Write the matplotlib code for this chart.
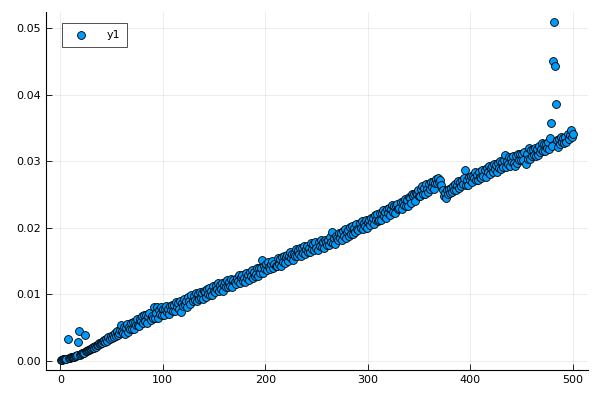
import matplotlib
matplotlib.use("Agg")
import matplotlib.pyplot as plt

x = list(range(1, 501))
y1 = [
    0.0001,0.0001,0.0002,0.0002,0.0002,0.0003,0.0033,0.0004,0.0004,0.0005,
    0.0005,0.0006,0.0006,0.0007,0.0007,0.0008,0.0028,0.0044,0.0009,0.0010,
    0.0011,0.0012,0.0012,0.0039,0.0014,0.0015,0.0016,0.0016,0.0017,0.0018,
    0.0019,0.0020,0.0019,0.0022,0.0021,0.0024,0.0023,0.0026,0.0025,0.0027,
    0.0026,0.0029,0.0031,0.0028,0.0033,0.0030,0.0035,0.0032,0.0037,0.0034,
    0.0038,0.0035,0.0041,0.0037,0.0044,0.0039,0.0042,0.0046,0.0053,0.0045,
    0.0042,0.0050,0.0040,0.0049,0.0055,0.0043,0.0050,0.0048,0.0057,0.0048,
    0.0058,0.0047,0.0058,0.0054,0.0062,0.0054,0.0052,0.0062,0.0059,0.0067,
    0.0057,0.0068,0.0060,0.0068,0.0057,0.0067,0.0072,0.0061,0.0067,0.0064,
    0.0080,0.0064,0.0072,0.0081,0.0064,0.0076,0.0070,0.0080,0.0068,0.0077,
    0.0068,0.0078,0.0082,0.0073,0.0077,0.0070,0.0082,0.0076,0.0084,0.0075,
    0.0084,0.0075,0.0088,0.0080,0.0086,0.0077,0.0089,0.0073,0.0087,0.0082,
    0.0092,0.0083,0.0089,0.0081,0.0095,0.0090,0.0085,0.0098,0.0090,0.0097,
    0.0091,0.0101,0.0089,0.0100,0.0093,0.0103,0.0094,0.0101,0.0093,0.0105,
    0.0103,0.0096,0.0107,0.0100,0.0109,0.0099,0.0105,0.0098,0.0112,0.0104,
    0.0103,0.0114,0.0107,0.0116,0.0104,0.0113,0.0108,0.0116,0.0104,0.0114,
    0.0118,0.0111,0.0121,0.0110,0.0118,0.0112,0.0123,0.0111,0.0121,0.0118,
    0.0115,0.0125,0.0119,0.0129,0.0116,0.0126,0.0129,0.0120,0.0125,0.0118,
    0.0132,0.0124,0.0129,0.0121,0.0134,0.0128,0.0137,0.0125,0.0134,0.0128,
    0.0131,0.0140,0.0128,0.0139,0.0132,0.0140,0.0152,0.0132,0.0142,0.0138,
    0.0145,0.0137,0.0148,0.0141,0.0138,0.0146,0.0150,0.0139,0.0146,0.0143,
    0.0142,0.0154,0.0146,0.0153,0.0143,0.0156,0.0148,0.0158,0.0147,0.0156,
    0.0159,0.0150,0.0158,0.0164,0.0155,0.0161,0.0152,0.0161,0.0158,0.0168,
    0.0157,0.0166,0.0161,0.0169,0.0157,0.0169,0.0162,0.0172,0.0160,0.0168,
    0.0172,0.0164,0.0170,0.0163,0.0177,0.0168,0.0175,0.0166,0.0178,0.0169,
    0.0167,0.0178,0.0173,0.0181,0.0171,0.0179,0.0170,0.0182,0.0179,0.0174,
    0.0182,0.0174,0.0186,0.0178,0.0194,0.0177,0.0185,0.0176,0.0188,0.0185,
    0.0181,0.0192,0.0185,0.0192,0.0182,0.0195,0.0188,0.0198,0.0185,0.0194,
    0.0197,0.0188,0.0201,0.0191,0.0202,0.0190,0.0200,0.0194,0.0206,0.0198,
    0.0196,0.0207,0.0200,0.0210,0.0198,0.0207,0.0202,0.0212,0.0199,0.0209,
    0.0212,0.0204,0.0215,0.0208,0.0214,0.0206,0.0219,0.0211,0.0221,0.0210,
    0.0212,0.0222,0.0212,0.0222,0.0226,0.0217,0.0223,0.0214,0.0228,0.0222,
    0.0229,0.0219,0.0228,0.0234,0.0224,0.0232,0.0222,0.0232,0.0236,0.0228,
    0.0229,0.0239,0.0228,0.0239,0.0234,0.0243,0.0232,0.0241,0.0233,0.0246,
    0.0244,0.0237,0.0250,0.0248,0.0251,0.0240,0.0252,0.0251,0.0257,0.0247,
    0.0248,0.0258,0.0263,0.0250,0.0259,0.0250,0.0265,0.0258,0.0254,0.0265,
    0.0258,0.0268,0.0261,0.0269,0.0258,0.0267,0.0273,0.0267,0.0275,0.0268,
    0.0272,0.0264,0.0256,0.0248,0.0252,0.0245,0.0256,0.0250,0.0258,0.0252,
    0.0259,0.0253,0.0263,0.0257,0.0266,0.0256,0.0264,0.0270,0.0260,0.0268,
    0.0262,0.0271,0.0266,0.0275,0.0286,0.0264,0.0272,0.0264,0.0276,0.0271,
    0.0278,0.0268,0.0278,0.0274,0.0284,0.0271,0.0279,0.0271,0.0284,0.0276,
    0.0275,0.0287,0.0278,0.0286,0.0276,0.0290,0.0283,0.0293,0.0280,0.0290,
    0.0292,0.0284,0.0295,0.0288,0.0294,0.0284,0.0297,0.0289,0.0300,0.0288,
    0.0298,0.0291,0.0302,0.0309,0.0291,0.0300,0.0295,0.0306,0.0292,0.0304,
    0.0298,0.0307,0.0297,0.0293,0.0307,0.0297,0.0310,0.0302,0.0310,0.0301,
    0.0310,0.0301,0.0313,0.0296,0.0310,0.0303,0.0320,0.0303,0.0317,0.0308,
    0.0317,0.0309,0.0319,0.0308,0.0318,0.0309,0.0323,0.0314,0.0318,0.0327,
    0.0315,0.0325,0.0315,0.0326,0.0320,0.0328,0.0318,0.0334,0.0357,0.0322,
    0.0450,0.0509,0.0443,0.0386,0.0331,0.0321,0.0333,0.0325,0.0336,0.0328,
    0.0335,0.0327,0.0336,0.0329,0.0340,0.0333,0.0339,0.0347,0.0336,0.0341,
]
x_ticks = [0, 100, 200, 300, 400, 500]
y_ticks = [0.00, 0.01, 0.02, 0.03, 0.04, 0.05]
y_tick_labels = ["0.00", "0.01", "0.02", "0.03", "0.04", "0.05"]
series_label = "y1"

fig = plt.figure(figsize=(6, 4), dpi=100)
ax = fig.add_axes([46/600, 30/400, 542/600, 358/400])

ax.scatter(x, y1, s=32, color="#009AFA", edgecolors="black", linewidths=0.6,
           label=series_label, zorder=3)

ax.set_xlim(-14, 515)
ax.set_ylim(-0.0014, 0.0524)
ax.set_xticks(x_ticks)
ax.set_xticklabels([str(t) for t in x_ticks])
ax.set_yticks(y_ticks)
ax.set_yticklabels(y_tick_labels)
ax.grid(True, color="black", alpha=0.1, linewidth=0.5)
ax.set_axisbelow(True)
for s in ["top", "right"]:
    ax.spines[s].set_visible(False)
for s in ["left", "bottom"]:
    ax.spines[s].set_linewidth(0.8)
ax.tick_params(direction="in", length=4, width=0.6, labelsize=8, colors="black")

leg = ax.legend(loc="upper left", fontsize=8, frameon=True, fancybox=False,
                edgecolor="black", borderpad=0.65, handletextpad=1.3,
                bbox_to_anchor=(0.02, 0.985), markerscale=1.0)
leg.get_frame().set_linewidth(0.6)

fig.savefig("out.png", dpi=100)
